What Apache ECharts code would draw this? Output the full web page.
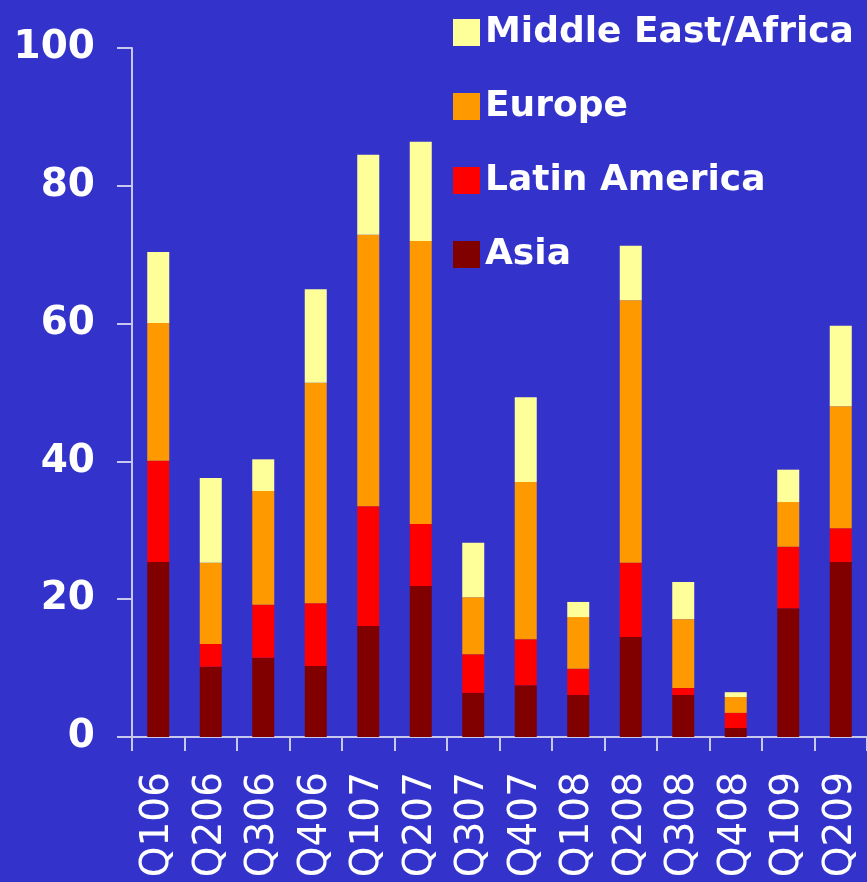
<!DOCTYPE html>
<html>
<head>
<meta charset="utf-8">
<script src="https://cdn.jsdelivr.net/npm/echarts@6/dist/echarts.min.js"></script>
<style>
  html, body { margin: 0; padding: 0; background: #3333cc; }
  #main { width: 867px; height: 882px; }
</style>
</head>
<body>
<div id="main"></div>
<script>
var quarters = ['Q106', 'Q206', 'Q306', 'Q406', 'Q107', 'Q207', 'Q307', 'Q407', 'Q108', 'Q208', 'Q308', 'Q408', 'Q109', 'Q209'];
var asia      = [25.4, 10.2, 11.5, 10.3, 16.1, 21.9, 6.4, 7.5, 6.1, 14.5, 6.1, 1.3, 18.7, 25.4];
var latinAm   = [14.7, 3.3, 7.7, 9.1, 17.4, 9.0, 5.6, 6.7, 3.8, 10.8, 1.0, 2.2, 8.9, 4.9];
var europe    = [20.0, 11.8, 16.5, 32.0, 39.4, 41.1, 8.3, 22.8, 7.5, 38.1, 10.0, 2.3, 6.5, 17.7];
var meAfrica  = [10.3, 12.3, 4.6, 13.6, 11.6, 14.4, 7.9, 12.3, 2.2, 7.9, 5.4, 0.7, 4.7, 11.7];
var yTicks = [0, 20, 40, 60, 80, 100];

var axisColor = '#c8c8ee';

function stackSeries(name, data, color) {
    return {
        name: name,
        type: 'bar',
        stack: 'total',
        barWidth: 22,
        data: data,
        itemStyle: { color: color },
        emphasis: { disabled: true }
    };
}

var myChart = echarts.init(document.getElementById('main'));
myChart.setOption({
    backgroundColor: '#3333cc',
    animation: false,
    grid: { left: 132, right: -1, top: 48, bottom: 145 },
    legend: {
        orient: 'vertical',
        left: 448,
        top: 8,
        icon: 'rect',
        itemWidth: 27,
        itemHeight: 27,
        itemGap: 35,
        data: ['Middle East/Africa', 'Europe', 'Latin America', 'Asia'],
        textStyle: {
            color: '#ffffff',
            fontFamily: 'DejaVu Sans',
            fontWeight: 'bold',
            fontSize: 36,
            lineHeight: 39
        }
    },
    xAxis: {
        type: 'category',
        data: quarters,
        axisLine: { lineStyle: { color: axisColor, width: 2 } },
        axisTick: { show: true, alignWithLabel: false, interval: 0, length: 14, lineStyle: { color: axisColor, width: 2 } },
        axisLabel: {
            rotate: 90,
            margin: 35,
            color: '#ffffff',
            fontFamily: 'DejaVu Sans',
            fontSize: 39,
            interval: 0
        }
    },
    yAxis: {
        type: 'value',
        min: yTicks[0],
        max: yTicks[yTicks.length - 1],
        interval: 20,
        splitLine: { show: false },
        axisLine: { show: true, lineStyle: { color: axisColor, width: 2 } },
        axisTick: { show: true, length: 15, lineStyle: { color: axisColor, width: 2 } },
        axisLabel: {
            margin: 37,
            color: '#ffffff',
            fontFamily: 'DejaVu Sans',
            fontWeight: 'bold',
            fontSize: 39
        }
    },
    series: [
        stackSeries('Asia', asia, '#800000'),
        stackSeries('Latin America', latinAm, '#ff0000'),
        stackSeries('Europe', europe, '#ff9900'),
        stackSeries('Middle East/Africa', meAfrica, '#ffff99')
    ]
});
</script>
</body>
</html>
